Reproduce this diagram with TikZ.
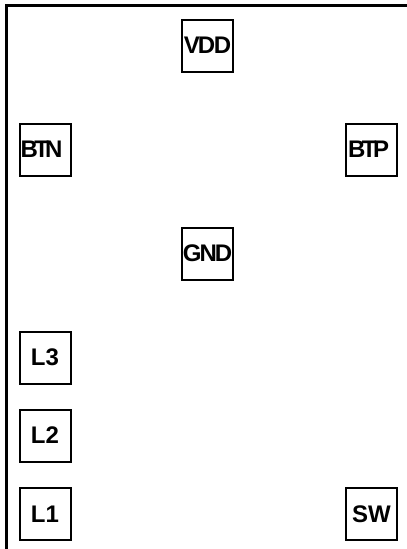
\documentclass[tikz,border=0pt]{standalone}
\usepackage{fontspec}
\setmainfont{Liberation Sans}
\begin{document}
\begin{tikzpicture}[x=1pt,y=-1pt,
  pin/.style={draw, line width=2pt, minimum width=51pt, minimum height=52pt, inner sep=0pt,
    font=\bfseries\fontsize{24}{24}\selectfont},
  frame/.style={line width=2.4pt}]
\useasboundingbox (0,0) rectangle (407,549);
\coordinate (fb) at (6.5,549);
\coordinate (fc) at (6.5,5.5);
\coordinate (fr) at (407,5.5);
\draw[frame] (fb) -- (fc) -- (fr);
\node[pin] (vdd) at (207.5,45.5) {V\kern-2pt D\kern-1.5pt D};
\node[pin] (btn) at (45,149.5) {B\kern-3.5pt T\kern-4pt N\kern7pt};
\node[pin] (btp) at (371.5,149.5) {B\kern-3.5pt T\kern-3.5pt P\kern6pt};
\node[pin] (gnd) at (207.5,253.5) {G\kern-2pt N\kern-2pt D};
\node[pin] (l3) at (45,357.5) {L3};
\node[pin] (l2) at (45,435.5) {L2};
\node[pin] (l1) at (45,514) {L1};
\node[pin] (sw) at (371.5,514) {SW};
\end{tikzpicture}
\end{document}
